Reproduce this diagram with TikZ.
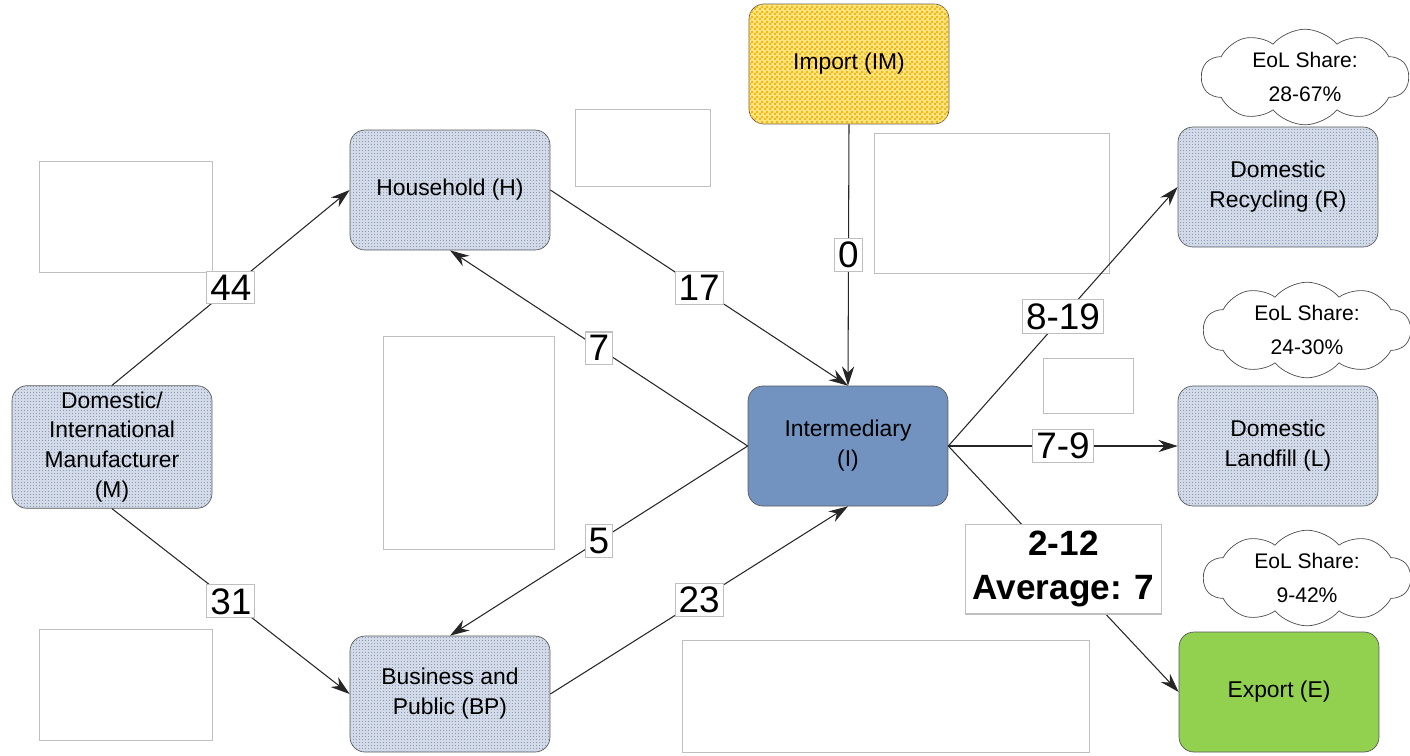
\documentclass[tikz,border=0pt]{standalone}
\usepackage{fontspec}
\setmainfont{Liberation Sans}
\usetikzlibrary{arrows.meta,shapes.symbols,patterns}
\definecolor{flowfill}{HTML}{D3DBE8}
\definecolor{flowdots}{HTML}{8E9DBA}
\definecolor{interfill}{HTML}{7293C0}
\definecolor{importlight}{HTML}{FFE680}
\definecolor{importdark}{HTML}{F2B81A}
\definecolor{exportfill}{HTML}{92D050}
% finer textures than the library ones
\pgfdeclarepatternformonly{finedots}{\pgfqpoint{0pt}{0pt}}{\pgfqpoint{1.7pt}{1.7pt}}{\pgfqpoint{1.7pt}{1.7pt}}{%
  \pgfpathcircle{\pgfqpoint{0.85pt}{0.85pt}}{0.4pt}\pgfusepath{fill}}
\pgfdeclarepatternformonly{finechecker}{\pgfqpoint{0pt}{0pt}}{\pgfqpoint{2.6pt}{2.6pt}}{\pgfqpoint{2.6pt}{2.6pt}}{%
  \pgfpathrectangle{\pgfpointorigin}{\pgfqpoint{1.3pt}{1.3pt}}%
  \pgfpathrectangle{\pgfqpoint{1.3pt}{1.3pt}}{\pgfqpoint{1.3pt}{1.3pt}}\pgfusepath{fill}}
\begin{document}
\begin{tikzpicture}[x=0.02cm,y=-0.02cm,>={Stealth[length=11pt,width=7pt]},
    flow/.style={draw=black!65, rounded corners=0.3cm, minimum width=4cm, minimum height=2.4cm,
      align=center, font=\fontsize{13}{17}\selectfont},
    dotted flow/.style={flow, fill=flowfill, postaction={pattern=finedots, pattern color=flowdots}},
    blankbox/.style={draw=black!25, line width=0.4pt},
    num/.style={fill=white, draw=black!25, inner sep=2pt, font=\fontsize{21}{23}\selectfont},
    eol/.style={cloud, cloud puffs=10, cloud puff arc=100, aspect=3, draw=black!70, fill=white,
      minimum width=4.1cm, minimum height=1.7cm, align=center, inner sep=0pt,
      font=\fontsize{12}{19}\selectfont},
    link/.style={->, draw=black!85, line width=0.6pt}]
  \useasboundingbox (0,0) rectangle (1410,755);

  % empty boxes
  \node (b1) [blankbox, minimum width=3.46cm, minimum height=2.22cm] at (126,217) {};
  \node (b2) [blankbox, minimum width=2.7cm, minimum height=1.54cm] at (643,148) {};
  \node (b3) [blankbox, minimum width=4.7cm, minimum height=2.8cm] at (992,203) {};
  \node (b4) [blankbox, minimum width=3.42cm, minimum height=4.26cm] at (469,443) {};
  \node (b5) [blankbox, minimum width=1.8cm, minimum height=1.1cm] at (1088,386) {};
  \node (b6) [blankbox, minimum width=3.46cm, minimum height=2.22cm] at (126,685) {};
  \node (b7) [blankbox, minimum width=8.14cm, minimum height=2.24cm] at (886,696) {};

  % stages
  \node (M) [dotted flow] at (112,447) {Domestic/\\International\\Manufacturer\\(M)};
  \node (H) [dotted flow] at (450,190) {Household (H)};
  \node (BP) [dotted flow, minimum height=2.32cm] at (450,694) {Business and\\Public (BP)};
  \node (IM) [flow, fill=importlight, postaction={pattern=finechecker, pattern color=importdark}] at (849,64) {Import (IM)};
  \node (I) [flow, fill=interfill] at (848,446) {Intermediary\\(I)};
  \node (R) [dotted flow] at (1278,187) {Domestic\\Recycling (R)};
  \node (L) [dotted flow] at (1278,446) {Domestic\\Landfill (L)};
  \node (E) [flow, fill=exportfill] at (1279,692) {Export (E)};

  % shares
  \node (cR) [eol] at (1305,77) {EoL Share:\\28-67\%};
  \node (cL) [eol] at (1307,330) {EoL Share:\\24-30\%};
  \node (cE) [eol] at (1307,578) {EoL Share:\\9-42\%};

  % flows
  \draw[link] (M.north) -- node[num]{44} (H.west);
  \draw[link] (M.south) -- node[num]{31} (BP.west);
  \draw[link] (H.east) -- node[num]{17} (I.north);
  \draw[link] (I.west) -- node[num]{7} (H.south);
  \draw[link] (I.west) -- node[num]{5} (BP.north);
  \draw[link] (BP.east) -- node[num]{23} (I.south);
  \draw[link] (IM.south) -- node[num]{0} (I.north);
  \draw[link] (I.east) -- node[num]{8-19} (R.west);
  \draw[link] (I.east) -- node[num]{7-9} (L.west);
  \draw[link] (I.east) -- node[num, align=center, font=\fontsize{20}{25}\selectfont\bfseries, inner sep=4pt]{2-12\\Average: 7} (E.west);
\end{tikzpicture}
\end{document}
